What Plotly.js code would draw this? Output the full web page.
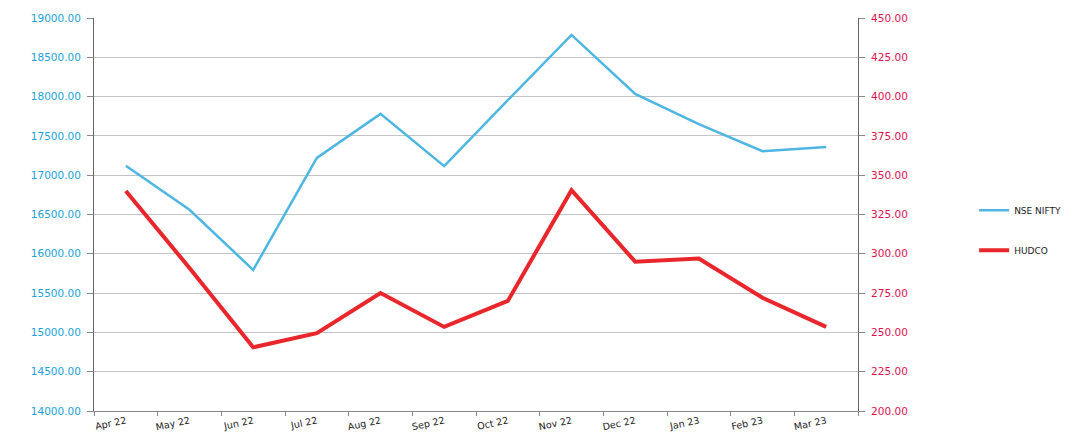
<!DOCTYPE html>
<html>
<head>
<meta charset="utf-8">
<script src="https://cdn.plot.ly/plotly-3.0.1.min.js"></script>
<style>html,body{margin:0;padding:0;background:#fff;}#chart{width:1087px;height:448px;}</style>
</head>
<body>
<div id="chart"></div>
<script>
const months = ["Apr 22","May 22","Jun 22","Jul 22","Aug 22","Sep 22","Oct 22","Nov 22","Dec 22","Jan 23","Feb 23","Mar 23"];
const niftyValues = [17120, 16560, 15795, 17220, 17780, 17115, 17955, 18785, 18035, 17650, 17305, 17360];
const hudcoValues = [340.0, 291.0, 240.5, 249.5, 275.0, 253.5, 270.0, 340.5, 295.0, 297.0, 272.0, 253.5];
const niftyName = "NSE NIFTY";
const hudcoName = "HUDCO";

const traces = [
  {x: months, y: niftyValues, name: niftyName, type: "scatter", mode: "lines",
   line: {color: "#4db6e2", width: 2.5}, yaxis: "y", legendgroup: "a"},
  {x: months, y: hudcoValues, name: hudcoName, type: "scatter", mode: "lines",
   line: {color: "#e8262b", width: 4}, yaxis: "y2", legendgroup: "b"}
];

const layout = {
  width: 1087, height: 448,
  margin: {l: 94, r: 229, t: 18, b: 37},
  paper_bgcolor: "#fff", plot_bgcolor: "#fff",
  font: {family: "DejaVu Sans, Liberation Sans, sans-serif", size: 10, color: "#222"},
  showlegend: true,
  legend: {x: 1.152, y: 0.46, xanchor: "left", yanchor: "middle", tracegroupgap: 21,
           font: {size: 9, color: "#222"}, bgcolor: "rgba(0,0,0,0)"},
  xaxis: {type: "category", showgrid: false, showline: true, linecolor: "#888", linewidth: 1,
          ticks: "outside", tickson: "boundaries", ticklen: 4, tickcolor: "#888",
          tickangle: -12, tickfont: {size: 9.5, color: "#222"}, range: [-0.5, 11.5]},
  yaxis: {range: [14000, 19000], dtick: 500, tickformat: ".2f", showgrid: true, gridcolor: "#c4c4c4",
          showline: true, linecolor: "#666", linewidth: 1, ticks: "outside", ticklen: 6, tickcolor: "#888",
          ticklabelstandoff: 4,
          tickfont: {size: 10.5, color: "#1aa3d9"}, zeroline: false},
  yaxis2: {range: [200, 450], dtick: 25, tickformat: ".2f", overlaying: "y", side: "right",
           showgrid: false, showline: true, linecolor: "#666", linewidth: 1, ticks: "outside", ticklen: 6,
           tickcolor: "#888", ticklabelstandoff: 4,
           tickfont: {size: 10.5, color: "#e0104f"}, zeroline: false}
};

Plotly.newPlot("chart", traces, layout, {displayModeBar: false, staticPlot: true});
</script>
</body>
</html>
